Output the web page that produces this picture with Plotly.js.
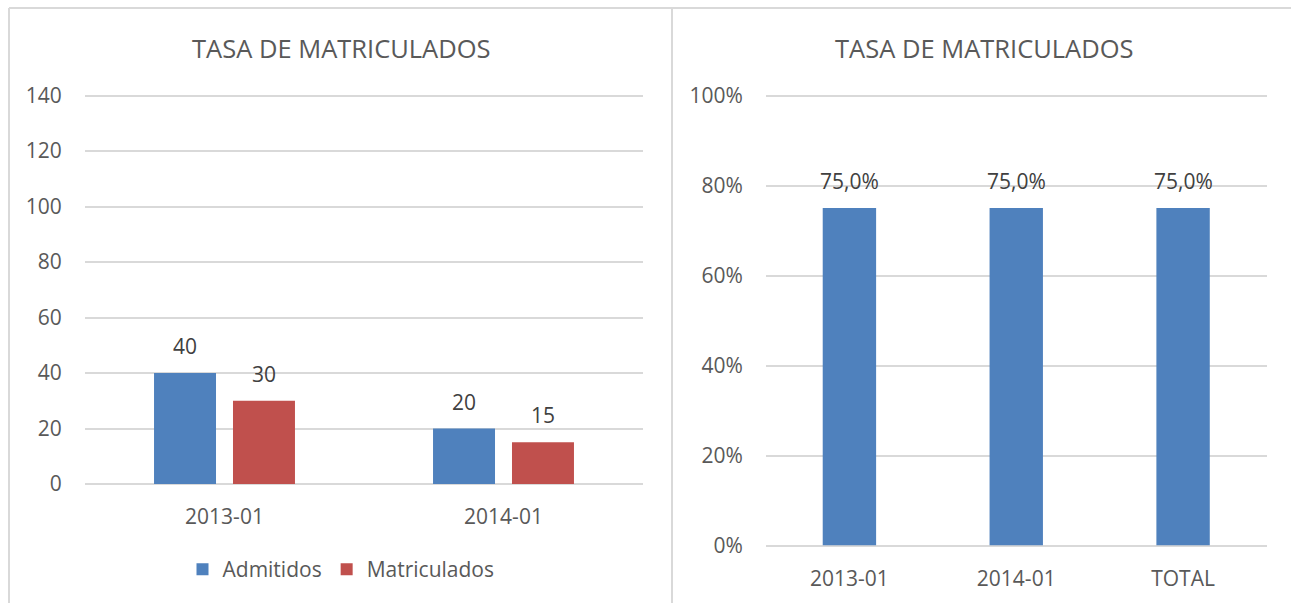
<!DOCTYPE html>
<html>
<head>
<meta charset="utf-8">
<script src="https://cdn.plot.ly/plotly-3.0.1.min.js"></script>
<style>html,body{margin:0;padding:0;background:#fff;}#chart{width:1291px;height:603px;}</style>
</head>
<body>
<div id="chart"></div>
<script>
// ---- data ----
const categoriesLeft = ['2013-01', '2014-01'];
const admitidos = [40, 20];
const matriculados = [30, 15];
const seriesNames = ['Admitidos', 'Matriculados'];
const categoriesRight = ['2013-01', '2014-01', 'TOTAL'];
const tasaMatriculados = [0.75, 0.75, 0.75];
const chartTitle = 'TASA DE MATRICULADOS';

// ---- styles ----
const W = 1291, H = 603;
const BLUE = '#4F81BD', RED = '#C0504D';
const GRID = '#D9D9D9', TXT = '#595959', LBL = '#404040';
const FONT = '"Open Sans", "Noto Sans", sans-serif';
const px = v => v / W, py = v => (H - v) / H;

const traces = [
  {type: 'bar', x: categoriesLeft, y: admitidos, name: seriesNames[0],
   marker: {color: BLUE}, xaxis: 'x', yaxis: 'y', hoverinfo: 'skip'},
  {type: 'bar', x: categoriesLeft, y: matriculados, name: seriesNames[1],
   marker: {color: RED}, xaxis: 'x', yaxis: 'y', hoverinfo: 'skip'},
  {type: 'bar', x: categoriesRight, y: tasaMatriculados, name: 'Tasa',
   marker: {color: BLUE}, xaxis: 'x2', yaxis: 'y2', width: 0.32,
   showlegend: false, hoverinfo: 'skip'}
];

const labelFont = {family: FONT, size: 21, color: LBL};
const annotations = [];
const LABEL_SHIFT = 11;
categoriesLeft.forEach((c, i) => {
  annotations.push({x: c, y: admitidos[i], xref: 'x', yref: 'y', text: String(admitidos[i]),
    showarrow: false, xanchor: 'center', yanchor: 'bottom', xshift: -39.5, yshift: LABEL_SHIFT, font: labelFont});
  annotations.push({x: c, y: matriculados[i], xref: 'x', yref: 'y', text: String(matriculados[i]),
    showarrow: false, xanchor: 'center', yanchor: 'bottom', xshift: 39.5, yshift: LABEL_SHIFT, font: labelFont});
});
categoriesRight.forEach((c, i) => {
  const t = (tasaMatriculados[i] * 100).toFixed(1).replace('.', ',') + '%';
  annotations.push({x: c, y: tasaMatriculados[i], xref: 'x2', yref: 'y2', text: t,
    showarrow: false, xanchor: 'center', yanchor: 'bottom', yshift: LABEL_SHIFT, font: labelFont});
});
// titles
annotations.push({x: px(341), y: py(48), xref: 'paper', yref: 'paper', text: chartTitle, showarrow: false,
  xanchor: 'center', yanchor: 'middle', font: {family: FONT, size: 25.5, color: TXT}});
annotations.push({x: px(984), y: py(48), xref: 'paper', yref: 'paper', text: chartTitle, showarrow: false,
  xanchor: 'center', yanchor: 'middle', font: {family: FONT, size: 25.5, color: TXT}});

const tickFont = {family: FONT, size: 21, color: TXT};
const xCommon = {type: 'category', showgrid: false, zeroline: false, showline: false, ticks: 'outside', ticklen: 14,
  tickcolor: 'rgba(0,0,0,0)', tickfont: tickFont, automargin: false, fixedrange: true};
const yCommon = {type: 'linear', showgrid: true, gridcolor: GRID, gridwidth: 2, zeroline: true, zerolinecolor: GRID,
  zerolinewidth: 2, showline: false, ticks: 'outside', ticklen: 18, tickcolor: 'rgba(0,0,0,0)',
  tickfont: tickFont, automargin: false, fixedrange: true};

// left: 0 at y=484, 140 at y=95.5 ; right: 0 at 545.5, 100% at 95.5
const leftPxPerUnit = (484 - 95.5) / 140;
const rightPxPerUnit = (545.5 - 95.5) / 1;
const leftTop = 142, rightTop = 1.015;

const layout = {
  width: W, height: H,
  margin: {l: 0, r: 0, t: 0, b: 0},
  paper_bgcolor: '#fff', plot_bgcolor: '#fff',
  font: {family: FONT, color: TXT},
  barmode: 'group', bargap: 0.434, bargroupgap: 0.215,
  xaxis: Object.assign({}, xCommon, {domain: [px(85), px(643)], anchor: 'y'}),
  yaxis: Object.assign({}, yCommon, {domain: [py(484), py(484 - leftPxPerUnit * leftTop)], range: [0, leftTop], dtick: 20, tick0: 0, anchor: 'x'}),
  xaxis2: Object.assign({}, xCommon, {domain: [px(766), px(1266.5)], anchor: 'y2'}),
  yaxis2: Object.assign({}, yCommon, {domain: [py(545.5), py(545.5 - rightPxPerUnit * rightTop)], range: [0, rightTop], dtick: 0.2, tick0: 0,
    tickformat: '.0%', anchor: 'x2'}),
  showlegend: true,
  legend: {orientation: 'h', x: px(341), y: py(569.5), xanchor: 'center', yanchor: 'middle',
    font: {family: FONT, size: 21, color: TXT}, bgcolor: 'rgba(0,0,0,0)', itemclick: false},
  annotations: annotations,
  shapes: [
    {type: 'line', xref: 'paper', yref: 'paper', x0: px(9), x1: 1, y0: py(8), y1: py(8), line: {color: GRID, width: 2}},
    {type: 'line', xref: 'paper', yref: 'paper', x0: px(9), x1: px(9), y0: 0, y1: py(8), line: {color: GRID, width: 2}},
    {type: 'line', xref: 'paper', yref: 'paper', x0: px(672), x1: px(672), y0: 0, y1: py(8), line: {color: GRID, width: 2}}
  ]
};

Plotly.newPlot('chart', traces, layout, {displayModeBar: false, staticPlot: true});
</script>
</body>
</html>
